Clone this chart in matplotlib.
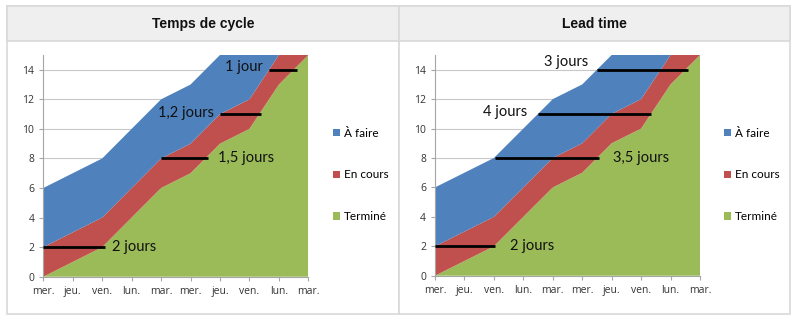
import matplotlib
matplotlib.use("Agg")
import matplotlib.pyplot as plt
from matplotlib.patches import Rectangle, Patch
import numpy as np

days = ["mer.", "jeu.", "ven.", "lun.", "mar.", "mer.", "jeu.", "ven.", "lun.", "mar."]
termine = [0, 1, 2, 4, 6, 7, 9, 10, 13, 15]
en_cours = [2, 2, 2, 2, 2, 2, 2, 2, 2, 2]
a_faire = [4, 4, 4, 4, 4, 4, 4, 4, 4, 4]
yticks = [0, 2, 4, 6, 8, 10, 12, 14]
series_labels = ["À faire", "En cours", "Terminé"]
colors = {"À faire": "#4F81BD", "En cours": "#C0504D", "Terminé": "#9BBB59"}

titles = ["Temps de cycle", "Lead time"]
# annotations: (y, x_start, x_end, label, label_x, label_y, ha)
annot_cycle = [
    (2, 0.0, 2.1, "2 jours", 2.35, 2.0, "left"),
    (8, 4.0, 5.6, "1,5 jours", 5.95, 8.0, "left"),
    (11, 6.0, 7.4, "1,2 jours", 5.8, 11.1, "right"),
    (14, 7.65, 8.6, "1 jour", 7.45, 14.2, "right"),
]
annot_lead = [
    (2, 0.0, 2.05, "2 jours", 2.55, 2.0, "left"),
    (8, 2.05, 5.57, "3,5 jours", 6.05, 8.0, "left"),
    (11, 3.5, 7.35, "4 jours", 3.15, 11.1, "right"),
    (14, 5.5, 8.6, "3 jours", 5.2, 14.55, "right"),
]

W, H = 796, 321
fig = plt.figure(figsize=(W / 100, H / 100), dpi=100)
fig.patch.set_facecolor("white")

def fx(px):
    return px / W

def fy(py):
    return 1 - py / H

border = "#d9d9d9"
# panels
for (x0, x1) in [(7, 399), (399, 790)]:
    fig.add_artist(Rectangle((fx(x0), fy(314)), fx(x1 - x0), (314 - 6) / H,
                             transform=fig.transFigure, facecolor="white",
                             edgecolor=border, lw=1.2, zorder=0))
    fig.add_artist(Rectangle((fx(x0), fy(41)), fx(x1 - x0), (41 - 6) / H,
                             transform=fig.transFigure, facecolor="#efefef",
                             edgecolor=border, lw=1.2, zorder=0))

panels = [
    dict(title=titles[0], center=203, ax=(43.3, 308.3, 55.0, 276.7), annot=annot_cycle, leg_x=322),
    dict(title=titles[1], center=594.5, ax=(435.0, 700.0, 55.0, 275.7), annot=annot_lead, leg_x=713),
]

x = np.arange(len(days))
for p in panels:
    fig.text(fx(p["center"]), fy(24), p["title"], ha="center", va="center",
             fontsize=10, fontweight="bold", family="Liberation Sans", color="#111111")
    l, r, t, b = p["ax"]
    ax = fig.add_axes([fx(l), fy(b), fx(r - l), (b - t) / H])
    ax.stackplot(x, termine, en_cours, a_faire,
                 colors=[colors["Terminé"], colors["En cours"], colors["À faire"]],
                 linewidth=0, zorder=2)
    ax.set_xlim(0, len(days) - 1)
    ax.set_ylim(0, 15)
    ax.set_yticks(yticks)
    ax.set_xticks(x)
    ax.set_xticklabels(days)
    ax.grid(axis="y", color="#c8c8c8", lw=0.8, zorder=1)
    ax.set_axisbelow(True)
    for s in ["top", "right"]:
        ax.spines[s].set_visible(False)
    for s in ["left", "bottom"]:
        ax.spines[s].set_color("#a6a6a6")
        ax.spines[s].set_zorder(3)
    ax.tick_params(axis="both", colors="#a6a6a6", labelcolor="#333333",
                   labelsize=7.5, length=3, width=0.8)
    ax.tick_params(axis="x", pad=4)
    for lab in ax.get_xticklabels() + ax.get_yticklabels():
        lab.set_family("Open Sans")
    for (yv, xs, xe, txt, tx, ty, ha) in p["annot"]:
        ax.plot([xs, xe], [yv, yv], color="black", lw=2, zorder=5, solid_capstyle="butt")
        ax.text(tx, ty, txt, ha=ha, va="center", fontsize=10.5, family="Lato",
                color="#111111", zorder=6)
    handles = [Patch(facecolor=colors[s], edgecolor="none") for s in series_labels]
    leg = fig.legend(handles, series_labels, loc="center left",
                     bbox_to_anchor=(fx(p["leg_x"]), fy(175)), frameon=False,
                     handlelength=0.6, handleheight=0.6, handletextpad=0.35,
                     labelspacing=2.6, prop={"family": "Lato", "size": 8.5})

fig.savefig("out.png", dpi=100, facecolor="white")
